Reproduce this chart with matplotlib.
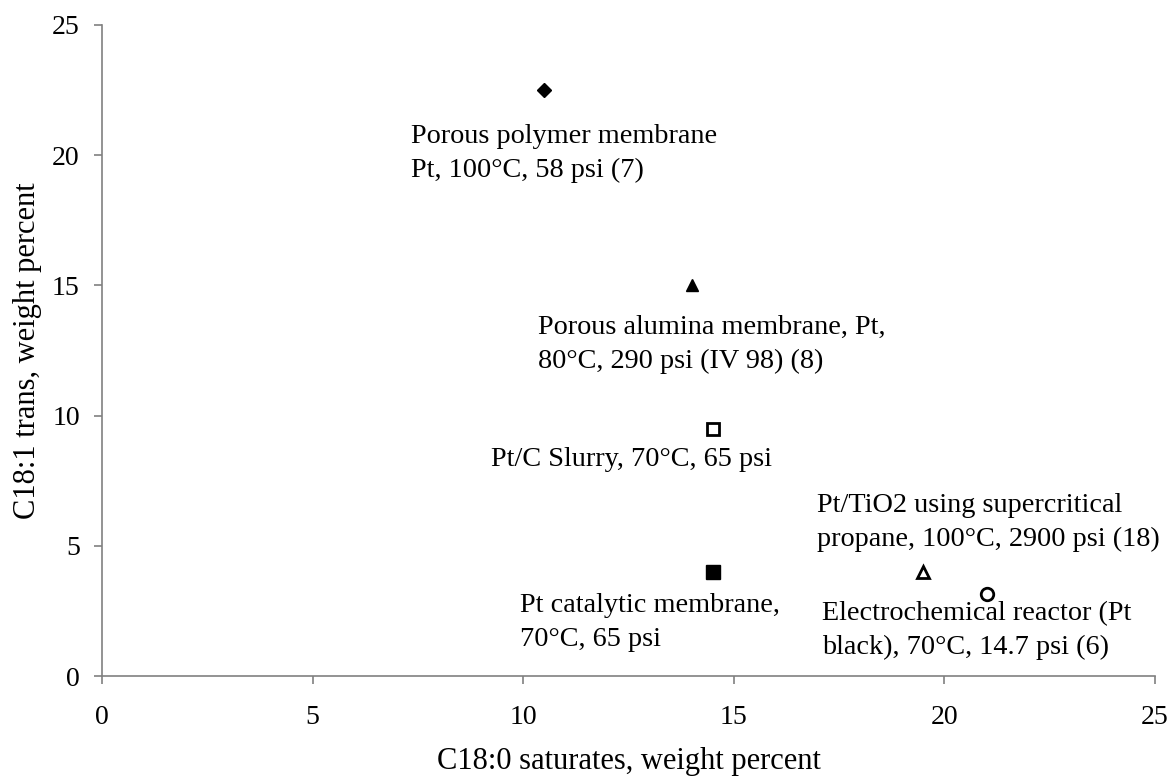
import matplotlib
matplotlib.use("Agg")
import matplotlib.pyplot as plt

plt.rcParams['font.family'] = ['Liberation Serif', 'DejaVu Serif']

# data
sat = [10.5, 14.0, 14.5, 14.5, 19.5, 21.0]
trans = [22.5, 15.0, 9.5, 4.0, 4.0, 3.15]
markers = ['D', '^', 's', 's', '^', 'o']
filled = [True, True, False, True, False, False]
sizes = [7, 9, 9, 10, 9, 9]
labels = [
    "Porous polymer membrane\nPt, 100°C, 58 psi (7)",
    "Porous alumina membrane, Pt,\n80°C, 290 psi (IV 98) (8)",
    "Pt/C Slurry, 70°C, 65 psi",
    "Pt catalytic membrane,\n70°C, 65 psi",
    "Pt/TiO2 using supercritical\npropane, 100°C, 2900 psi (18)",
    "Electrochemical reactor (Pt\nblack), 70°C, 14.7 psi (6)",
]
label_x = [7.34, 10.35, 9.24, 9.93, 16.98, 17.1]
label_y = [21.18, 13.85, 8.78, 3.19, 7.02, 2.86]

xticks = [0, 5, 10, 15, 20, 25]
yticks = [0, 5, 10, 15, 20, 25]

fig = plt.figure(figsize=(11.69, 7.78), dpi=100)
ax = fig.add_axes([0.0873, 0.131, 0.9007, 0.837])

for x, y, m, f, s in zip(sat, trans, markers, filled, sizes):
    ax.plot([x], [y], marker=m, markersize=s, linestyle='none',
            markerfacecolor='black' if f else 'white',
            markeredgecolor='black', markeredgewidth=2 if not f else 1)

for t, x, y in zip(labels, label_x, label_y):
    ax.text(x, y, t, fontsize=20.3, ha='left', va='top', linespacing=1.45)

ax.set_xlim(0, 25)
ax.set_ylim(0, 25)
ax.set_xticks(xticks)
ax.set_yticks(yticks)
ax.tick_params(labelsize=20, length=6, width=1.2, color='#808080', direction='out')
ax.tick_params(axis='x', pad=15)
ax.tick_params(axis='y', pad=10)
for s in ['top', 'right']:
    ax.spines[s].set_visible(False)
for s in ['left', 'bottom']:
    ax.spines[s].set_color('#808080')
    ax.spines[s].set_linewidth(1.2)

ax.set_xlabel("C18:0 saturates, weight percent", fontsize=22, labelpad=12)
ax.set_ylabel("C18:1 trans, weight percent", fontsize=22, labelpad=7)

fig.savefig("out.png", dpi=100)
